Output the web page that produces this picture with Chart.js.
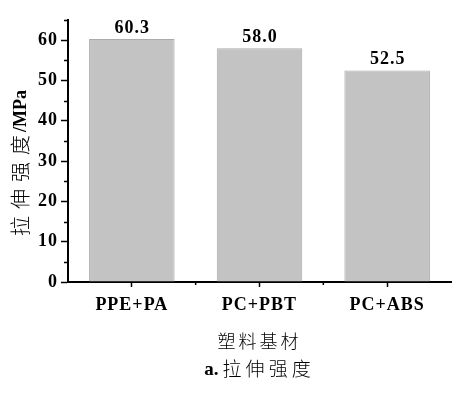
<!DOCTYPE html>
<html>
<head>
<meta charset="utf-8">
<script src="https://cdn.jsdelivr.net/npm/chart.js@4.4.0/dist/chart.umd.min.js"></script>
<style>
  html, body { margin: 0; padding: 0; background: #fff; }
  #wrap { width: 456px; height: 394px; }
</style>
</head>
<body>
<div id="wrap"><canvas id="chart"></canvas></div>
<script>
// 데이터
var categories = ['PPE+PA', 'PC+PBT', 'PC+ABS'];
var strength = [60.3, 58.0, 52.5];
var yMax = 65;
var yStep = 5;
var xTitle = '塑料基材';
var yTitleChars = ['拉', '伸', '强', '度'];
var yTitleUnit = '/MPa';
var captionLabel = 'a.';
var captionText = '拉伸强度';

var serif = '"Liberation Serif", "Times New Roman", serif';
var cjk = '"Noto Sans CJK SC", sans-serif';

// 글자 간격 (tick 레이블 포함)
var spacingPlugin = {
  id: 'spacing',
  beforeDraw: function(chart){
    chart.ctx.letterSpacing = '1px';
  }
};

// 보조 눈금, 값 레이블, 축 제목, 캡션
var decoPlugin = {
  id: 'deco',
  afterDraw: function(chart){
    var ctx = chart.ctx;
    var xs = chart.scales.x, ys = chart.scales.y;
    ctx.save();
    ctx.strokeStyle = '#000';
    ctx.lineWidth = 1.5;
    // y 보조 눈금
    for (var v = yStep; v <= yMax; v += 10) {
      var py = Math.round(ys.getPixelForValue(v)) + 0.5;
      ctx.beginPath();
      ctx.moveTo(ys.right - 4, py);
      ctx.lineTo(ys.right, py);
      ctx.stroke();
    }
    // x 보조 눈금
    for (var i = 0; i < categories.length - 1; i++) {
      var px = (xs.getPixelForValue(i) + xs.getPixelForValue(i + 1)) / 2;
      ctx.beginPath();
      ctx.moveTo(px, xs.top);
      ctx.lineTo(px, xs.top + 3);
      ctx.stroke();
    }

    // 값 레이블
    ctx.fillStyle = '#000';
    ctx.letterSpacing = '1px';
    ctx.font = 'bold 18px ' + serif;
    ctx.textAlign = 'center';
    ctx.textBaseline = 'alphabetic';
    chart.getDatasetMeta(0).data.forEach(function(bar, i){
      ctx.fillText(strength[i].toFixed(1), bar.x + 0.5, bar.y - 6);
    });

    // x 축 제목
    var cx = (chart.chartArea.left + chart.chartArea.right) / 2;
    ctx.letterSpacing = '3px';
    ctx.font = '300 18px ' + cjk;
    ctx.textBaseline = 'middle';
    ctx.fillText(xTitle, cx, 341);

    // 캡션
    ctx.font = 'bold 19px ' + serif;
    ctx.letterSpacing = '0px';
    var w1 = ctx.measureText(captionLabel).width;
    ctx.font = '300 19px ' + cjk;
    ctx.letterSpacing = '4px';
    var w2 = ctx.measureText(captionText).width;
    var sx = cx - (w1 + 4 + w2) / 2;
    ctx.textAlign = 'left';
    ctx.font = 'bold 19px ' + serif;
    ctx.letterSpacing = '0px';
    ctx.fillText(captionLabel, sx, 370);
    ctx.font = '300 19px ' + cjk;
    ctx.letterSpacing = '4px';
    ctx.fillText(captionText, sx + w1 + 4, 369);

    // y 축 제목 (세로)
    ctx.translate(20, 160);
    ctx.rotate(-Math.PI / 2);
    ctx.textBaseline = 'middle';
    ctx.textAlign = 'left';
    ctx.letterSpacing = '0px';
    ctx.font = '300 20px ' + cjk;
    var tx = -76;
    yTitleChars.forEach(function(ch){
      ctx.fillText(ch, tx, 0);
      tx += 27;
    });
    ctx.font = 'bold 18px ' + serif;
    ctx.fillText(yTitleUnit, tx - 4, 1);
    ctx.restore();
  }
};

new Chart(document.getElementById('chart'), {
  type: 'bar',
  data: {
    labels: categories,
    datasets: [{
      data: strength,
      backgroundColor: '#c3c3c3',
      borderColor: '#ababab',
      borderWidth: 1,
      barPercentage: 0.67,
      categoryPercentage: 1
    }]
  },
  options: {
    responsive: true,
    maintainAspectRatio: false,
    animation: false,
    devicePixelRatio: 1,
    layout: { padding: { top: 20, right: 5, left: 0, bottom: 0 } },
    plugins: {
      legend: { display: false },
      tooltip: { enabled: false }
    },
    scales: {
      x: {
        offset: true,
        grid: {
          offset: false,
          drawOnChartArea: false,
          tickLength: 5,
          tickWidth: 1.5,
          tickColor: '#000'
        },
        border: { color: '#000', width: 2 },
        ticks: {
          color: '#000',
          padding: 8,
          font: { family: serif, size: 18, weight: 'bold' }
        },
        afterFit: function(scale){ scale.height = 112; }
      },
      y: {
        min: 0,
        max: yMax,
        grid: {
          drawOnChartArea: false,
          tickLength: 7,
          tickWidth: 1.5,
          tickColor: function(c){ return c.tick && c.tick.value % 10 === 0 ? '#000' : 'rgba(0,0,0,0)'; }
        },
        border: { color: '#000', width: 2 },
        ticks: {
          stepSize: yStep,
          color: '#000',
          padding: 3,
          font: { family: serif, size: 18, weight: 'bold' },
          callback: function(v){ return v % 10 === 0 ? v : ''; }
        },
        afterFit: function(scale){ scale.width = 68; }
      }
    }
  },
  plugins: [spacingPlugin, decoPlugin]
});
</script>
</body>
</html>
